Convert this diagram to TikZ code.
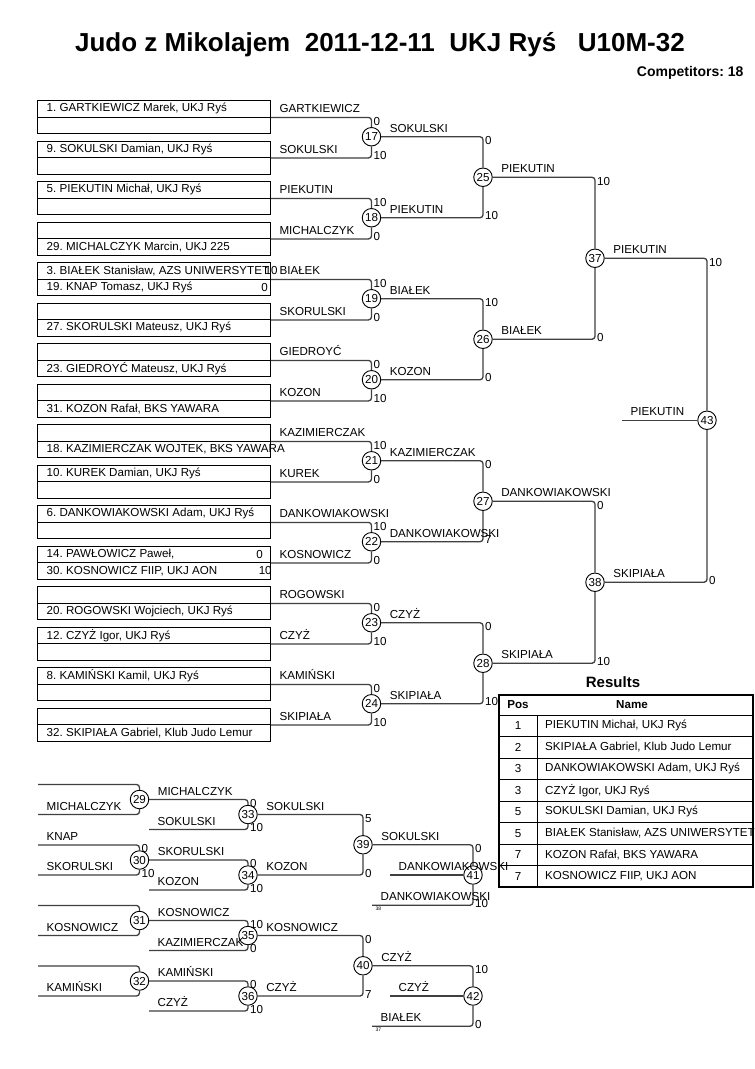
\documentclass[tikz,border=0pt]{standalone}
\usepackage{fontspec}
\setmainfont{Liberation Sans}
\usetikzlibrary{positioning}
\frenchspacing

\begin{document}
\begin{tikzpicture}[x=1pt,y=-1pt,
		slot/.style={draw,line width=0.9pt,minimum width=233pt,minimum height=16.5pt,inner sep=0pt,anchor=north west},
		slotname/.style={anchor=west,inner sep=0pt,font=\fontsize{11.6}{14}\selectfont},
		pts/.style={anchor=east,inner sep=0pt,font=\fontsize{11.6}{14}\selectfont},
		wire/.style={draw=black!75,line width=1.3pt,rounded corners=3pt},
		bout/.style={circle,draw,fill=white,line width=0.9pt,minimum size=18.5pt,inner sep=0pt,font=\fontsize{11.6}{14}\selectfont},
		tag/.style={anchor=base west,inner sep=0pt,xshift=8pt,yshift=4.5pt,font=\fontsize{11.6}{14}\selectfont},
		hi/.style={anchor=north west,inner sep=0pt,xshift=1.5pt,yshift=1pt,font=\fontsize{11.6}{14}\selectfont},
		lo/.style={anchor=base west,inner sep=0pt,xshift=1.5pt,yshift=-2pt,font=\fontsize{11.6}{14}\selectfont},
		seed/.style={anchor=north west,inner sep=0pt,xshift=3pt,yshift=-1.5pt,font=\fontsize{5}{6}\selectfont},
		cell/.style={inner sep=0pt,font=\fontsize{11.6}{14}\selectfont}]
		\useasboundingbox[fill=white] (0,0) rectangle (755,1069);

		\node[font=\fontsize{26}{30}\selectfont\bfseries] (title) at (380,45) {Judo z Mikolajem\ \ 2011-12-11\ \ UKJ Ryś\ \ \ U10M-32};
		\node[anchor=east,font=\fontsize{14}{16}\selectfont\bfseries] (count) at (747,73) {Competitors: 18};

		% entry list
		\node[slot] (p0a) at (37,100) {}; \node[slot] (p0b) at (37,116.5) {};
		\node[slot] (p1a) at (37,140.5) {}; \node[slot] (p1b) at (37,157) {};
		\node[slot] (p2a) at (37,181) {}; \node[slot] (p2b) at (37,197.5) {};
		\node[slot] (p3a) at (37,221.5) {}; \node[slot] (p3b) at (37,238) {};
		\node[slot] (p4a) at (37,262) {}; \node[slot] (p4b) at (37,278.5) {};
		\node[slot] (p5a) at (37,302.5) {}; \node[slot] (p5b) at (37,319) {};
		\node[slot] (p6a) at (37,343) {}; \node[slot] (p6b) at (37,359.5) {};
		\node[slot] (p7a) at (37,383.5) {}; \node[slot] (p7b) at (37,400) {};
		\node[slot] (p8a) at (37,424) {}; \node[slot] (p8b) at (37,440.5) {};
		\node[slot] (p9a) at (37,464.5) {}; \node[slot] (p9b) at (37,481) {};
		\node[slot] (p10a) at (37,505) {}; \node[slot] (p10b) at (37,521.5) {};
		\node[slot] (p11a) at (37,545.5) {}; \node[slot] (p11b) at (37,562) {};
		\node[slot] (p12a) at (37,586) {}; \node[slot] (p12b) at (37,602.5) {};
		\node[slot] (p13a) at (37,626.5) {}; \node[slot] (p13b) at (37,643) {};
		\node[slot] (p14a) at (37,667) {}; \node[slot] (p14b) at (37,683.5) {};
		\node[slot] (p15a) at (37,707.5) {}; \node[slot] (p15b) at (37,724) {};

		\node[slotname] (n0a) at ([xshift=9.5pt]p0a.west) {1. GARTKIEWICZ Marek, UKJ Ryś};
		\node[slotname] (n1a) at ([xshift=9.5pt]p1a.west) {9. SOKULSKI Damian, UKJ Ryś};
		\node[slotname] (n2a) at ([xshift=9.5pt]p2a.west) {5. PIEKUTIN Michał, UKJ Ryś};
		\node[slotname] (n3b) at ([xshift=9.5pt]p3b.west) {29. MICHALCZYK Marcin, UKJ 225};
		\node[slotname] (n4a) at ([xshift=9.5pt]p4a.west) {3. BIAŁEK Stanisław, AZS UNIWERSYTET};
		\node[slotname] (n4b) at ([xshift=9.5pt]p4b.west) {19. KNAP Tomasz, UKJ Ryś};
		\node[slotname] (n5b) at ([xshift=9.5pt]p5b.west) {27. SKORULSKI Mateusz, UKJ Ryś};
		\node[slotname] (n6b) at ([xshift=9.5pt]p6b.west) {23. GIEDROYĆ Mateusz, UKJ Ryś};
		\node[slotname] (n7b) at ([xshift=9.5pt]p7b.west) {31. KOZON Rafał, BKS YAWARA};
		\node[slotname] (n8b) at ([xshift=9.5pt]p8b.west) {18. KAZIMIERCZAK WOJTEK, BKS YAWARA};
		\node[slotname] (n9a) at ([xshift=9.5pt]p9a.west) {10. KUREK Damian, UKJ Ryś};
		\node[slotname] (n10a) at ([xshift=9.5pt]p10a.west) {6. DANKOWIAKOWSKI Adam, UKJ Ryś};
		\node[slotname] (n11a) at ([xshift=9.5pt]p11a.west) {14. PAWŁOWICZ Paweł,};
		\node[slotname] (n11b) at ([xshift=9.5pt]p11b.west) {30. KOSNOWICZ FIIP, UKJ AON};
		\node[slotname] (n12b) at ([xshift=9.5pt]p12b.west) {20. ROGOWSKI Wojciech, UKJ Ryś};
		\node[slotname] (n13a) at ([xshift=9.5pt]p13a.west) {12. CZYŻ Igor, UKJ Ryś};
		\node[slotname] (n14a) at ([xshift=9.5pt]p14a.west) {8. KAMIŃSKI Kamil, UKJ Ryś};
		\node[slotname] (n15b) at ([xshift=9.5pt]p15b.west) {32. SKIPIAŁA Gabriel, Klub Judo Lemur};

		\node[pts] (s4a) at ([xshift=7pt]p4a.east) {10};
		\node[pts] (s4b) at ([xshift=-3pt]p4b.east) {0};
		\node[pts] (s11a) at ([xshift=-8pt]p11a.east) {0};
		\node[pts] (s11b) at ([xshift=1pt]p11b.east) {10};

		% main bracket
		\node[bout] (m17) at (371.5,136.75) {17};
		\node[bout] (m18) at (371.5,217.75) {18};
		\node[bout] (m19) at (371.5,298.75) {19};
		\node[bout] (m20) at (371.5,379.75) {20};
		\node[bout] (m21) at (371.5,460.75) {21};
		\node[bout] (m22) at (371.5,541.75) {22};
		\node[bout] (m23) at (371.5,622.75) {23};
		\node[bout] (m24) at (371.5,703.75) {24};
		\node[bout] (m25) at (483,177.25) {25};
		\node[bout] (m26) at (483,339.25) {26};
		\node[bout] (m27) at (483,501.25) {27};
		\node[bout] (m28) at (483,663.25) {28};
		\node[bout] (m37) at (595,258.25) {37};
		\node[bout] (m38) at (595,582.25) {38};
		\node[bout] (m43) at (707,420.25) {43};
		\coordinate (f43) at (622,420.25);

		\draw[wire] (p0a.south east) -| node[pos=0,tag]{GARTKIEWICZ} node[midway,hi]{0} (m17);
		\draw[wire] (p1a.south east) -| node[pos=0,tag]{SOKULSKI} node[midway,lo]{10} (m17);
		\draw[wire] (p2a.south east) -| node[pos=0,tag]{PIEKUTIN} node[midway,hi]{10} (m18);
		\draw[wire] (p3a.south east) -| node[pos=0,tag]{MICHALCZYK} node[midway,lo]{0} (m18);
		\draw[wire] (p4a.south east) -| node[pos=0,tag]{BIAŁEK} node[midway,hi]{10} (m19);
		\draw[wire] (p5a.south east) -| node[pos=0,tag]{SKORULSKI} node[midway,lo]{0} (m19);
		\draw[wire] (p6a.south east) -| node[pos=0,tag]{GIEDROYĆ} node[midway,hi]{0} (m20);
		\draw[wire] (p7a.south east) -| node[pos=0,tag]{KOZON} node[midway,lo]{10} (m20);
		\draw[wire] (p8a.south east) -| node[pos=0,tag]{KAZIMIERCZAK} node[midway,hi]{10} (m21);
		\draw[wire] (p9a.south east) -| node[pos=0,tag]{KUREK} node[midway,lo]{0} (m21);
		\draw[wire] (p10a.south east) -| node[pos=0,tag]{DANKOWIAKOWSKI} node[midway,hi]{10} (m22);
		\draw[wire] (p11a.south east) -| node[pos=0,tag]{KOSNOWICZ} node[midway,lo]{0} (m22);
		\draw[wire] (p12a.south east) -| node[pos=0,tag]{ROGOWSKI} node[midway,hi]{0} (m23);
		\draw[wire] (p13a.south east) -| node[pos=0,tag]{CZYŻ} node[midway,lo]{10} (m23);
		\draw[wire] (p14a.south east) -| node[pos=0,tag]{KAMIŃSKI} node[midway,hi]{0} (m24);
		\draw[wire] (p15a.south east) -| node[pos=0,tag]{SKIPIAŁA} node[midway,lo]{10} (m24);

		\draw[wire] (m17) -| node[pos=0,tag]{SOKULSKI} node[midway,hi]{0} (m25);
		\draw[wire] (m18) -| node[pos=0,tag]{PIEKUTIN} node[midway,lo]{10} (m25);
		\draw[wire] (m19) -| node[pos=0,tag]{BIAŁEK} node[midway,hi]{10} (m26);
		\draw[wire] (m20) -| node[pos=0,tag]{KOZON} node[midway,lo]{0} (m26);
		\draw[wire] (m21) -| node[pos=0,tag]{KAZIMIERCZAK} node[midway,hi]{0} (m27);
		\draw[wire] (m22) -| node[pos=0,tag]{DANKOWIAKOWSKI} node[midway,lo]{7} (m27);
		\draw[wire] (m23) -| node[pos=0,tag]{CZYŻ} node[midway,hi]{0} (m28);
		\draw[wire] (m24) -| node[pos=0,tag]{SKIPIAŁA} node[midway,lo]{10} (m28);

		\draw[wire] (m25) -| node[pos=0,tag]{PIEKUTIN} node[midway,hi]{10} (m37);
		\draw[wire] (m26) -| node[pos=0,tag]{BIAŁEK} node[midway,lo]{0} (m37);
		\draw[wire] (m27) -| node[pos=0,tag]{DANKOWIAKOWSKI} node[midway,hi]{0} (m38);
		\draw[wire] (m28) -| node[pos=0,tag]{SKIPIAŁA} node[midway,lo]{10} (m38);

		\draw[wire] (m37) -| node[pos=0,tag]{PIEKUTIN} node[midway,hi]{10} (m43);
		\draw[wire] (m38) -| node[pos=0,tag]{SKIPIAŁA} node[midway,lo]{0} (m43);
		\draw[wire] (f43) -- node[pos=0,tag]{PIEKUTIN} (m43);

		% repechage
		\node[bout] (m29) at (139.5,799.5) {29};
		\node[bout] (m30) at (139.5,860) {30};
		\node[bout] (m31) at (139.5,920.5) {31};
		\node[bout] (m32) at (139.5,981) {32};
		\node[bout] (m33) at (248,814.5) {33};
		\node[bout] (m34) at (248,875) {34};
		\node[bout] (m35) at (248,935.5) {35};
		\node[bout] (m36) at (248,996) {36};
		\node[bout] (m39) at (363,844.75) {39};
		\node[bout] (m40) at (363,965.75) {40};
		\node[bout] (m41) at (473,875) {41};
		\node[bout] (m42) at (473,996) {42};

		\coordinate (r29a) at (38,784.5); \coordinate (r29b) at (38,814.5);
		\coordinate (r30a) at (38,845); \coordinate (r30b) at (38,875);
		\coordinate (r31a) at (38,905.5); \coordinate (r31b) at (38,935.5);
		\coordinate (r32a) at (38,966); \coordinate (r32b) at (38,996);
		\coordinate (r33) at (149,829.5); \coordinate (r34) at (149,890);
		\coordinate (r35) at (149,950.5); \coordinate (r36) at (149,1011);
		\coordinate (r41) at (372,905.25); \coordinate (c41) at (390,875);
		\coordinate (r42) at (372,1026.25); \coordinate (c42) at (390,996);

		\draw[wire] (r29a) -| (m29);
		\draw[wire] (r29b) -| node[pos=0,tag]{MICHALCZYK} (m29);
		\draw[wire] (r30a) -| node[pos=0,tag]{KNAP} node[midway,hi]{0} (m30);
		\draw[wire] (r30b) -| node[pos=0,tag]{SKORULSKI} node[midway,lo]{10} (m30);
		\draw[wire] (r31a) -| (m31);
		\draw[wire] (r31b) -| node[pos=0,tag]{KOSNOWICZ} (m31);
		\draw[wire] (r32a) -| (m32);
		\draw[wire] (r32b) -| node[pos=0,tag]{KAMIŃSKI} (m32);

		\draw[wire] (m29) -| node[pos=0,tag]{MICHALCZYK} node[midway,hi]{0} (m33);
		\draw[wire] (r33) -| node[pos=0,tag]{SOKULSKI} node[midway,lo]{10} (m33);
		\draw[wire] (m30) -| node[pos=0,tag]{SKORULSKI} node[midway,hi]{0} (m34);
		\draw[wire] (r34) -| node[pos=0,tag]{KOZON} node[midway,lo]{10} (m34);
		\draw[wire] (m31) -| node[pos=0,tag]{KOSNOWICZ} node[midway,hi]{10} (m35);
		\draw[wire] (r35) -| node[pos=0,tag]{KAZIMIERCZAK} node[midway,lo]{0} (m35);
		\draw[wire] (m32) -| node[pos=0,tag]{KAMIŃSKI} node[midway,hi]{0} (m36);
		\draw[wire] (r36) -| node[pos=0,tag]{CZYŻ} node[midway,lo]{10} (m36);

		\draw[wire] (m33) -| node[pos=0,tag]{SOKULSKI} node[midway,hi]{5} (m39);
		\draw[wire] (m34) -| node[pos=0,tag]{KOZON} node[midway,lo]{0} (m39);
		\draw[wire] (m35) -| node[pos=0,tag]{KOSNOWICZ} node[midway,hi]{0} (m40);
		\draw[wire] (m36) -| node[pos=0,tag]{CZYŻ} node[midway,lo]{7} (m40);

		\draw[wire] (m39) -| node[pos=0,tag]{SOKULSKI} node[midway,hi]{0} (m41);
		\draw[wire] (r41) -| node[pos=0,tag]{DANKOWIAKOWSKI} node[pos=0,seed]{38} node[midway,lo]{10} (m41);
		\draw[wire] (c41) -- node[pos=0,tag]{DANKOWIAKOWSKI} (m41);
		\draw[wire] (m40) -| node[pos=0,tag]{CZYŻ} node[midway,hi]{10} (m42);
		\draw[wire] (r42) -| node[pos=0,tag]{BIAŁEK} node[pos=0,seed]{37} node[midway,lo]{0} (m42);
		\draw[wire] (c42) -- node[pos=0,tag]{CZYŻ} (m42);

		% results
		\node[font=\fontsize{15}{18}\selectfont\bfseries] (results) at (613,682) {Results};
		\draw[line width=1.8pt] (499,695) rectangle (753,887);
		\draw[line width=0.9pt] (499,715) -- (753,715);
		\draw[line width=0.9pt] (499,736.5) -- (753,736.5);
		\draw[line width=0.9pt] (499,758) -- (753,758);
		\draw[line width=0.9pt] (499,779.5) -- (753,779.5);
		\draw[line width=0.9pt] (499,801) -- (753,801);
		\draw[line width=0.9pt] (499,822.5) -- (753,822.5);
		\draw[line width=0.9pt] (499,844) -- (753,844);
		\draw[line width=0.9pt] (499,865.5) -- (753,865.5);
		\draw[line width=0.9pt] (537,715) -- (537,887);
		\node[cell,font=\fontsize{11.6}{14}\selectfont\bfseries] (hpos) at (518,705) {Pos};
		\node[cell,font=\fontsize{11.6}{14}\selectfont\bfseries] (hname) at (632,705) {Name};
		\node[cell] (q1) at (518,725.75) {1};
		\node[cell] (q2) at (518,747.25) {2};
		\node[cell] (q3) at (518,768.75) {3};
		\node[cell] (q4) at (518,790.25) {3};
		\node[cell] (q5) at (518,811.75) {5};
		\node[cell] (q6) at (518,833.25) {5};
		\node[cell] (q7) at (518,854.75) {7};
		\node[cell] (q8) at (518,876.25) {7};
		\node[cell,anchor=west] (w1) at (545,725.75) {PIEKUTIN Michał, UKJ Ryś};
		\node[cell,anchor=west] (w2) at (545,747.25) {SKIPIAŁA Gabriel, Klub Judo Lemur};
		\node[cell,anchor=west] (w3) at (545,768.75) {DANKOWIAKOWSKI Adam, UKJ Ryś};
		\node[cell,anchor=west] (w4) at (545,790.25) {CZYŻ Igor, UKJ Ryś};
		\node[cell,anchor=west] (w5) at (545,811.75) {SOKULSKI Damian, UKJ Ryś};
		\node[cell,anchor=west] (w6) at (545,833.25) {BIAŁEK Stanisław, AZS UNIWERSYTET};
		\node[cell,anchor=west] (w7) at (545,854.75) {KOZON Rafał, BKS YAWARA};
		\node[cell,anchor=west] (w8) at (545,876.25) {KOSNOWICZ FIIP, UKJ AON};
	\end{tikzpicture}
\end{document}
